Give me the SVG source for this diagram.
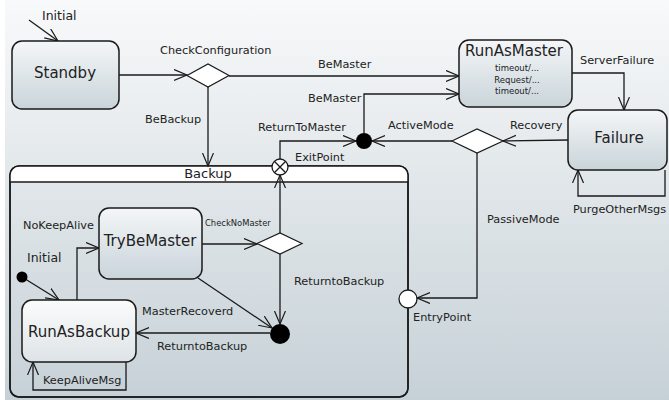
<svg xmlns="http://www.w3.org/2000/svg" width="669" height="400" viewBox="0 0 669 400">
<defs>
<linearGradient id="bg" x1="0" y1="0" x2="0" y2="1">
<stop offset="0" stop-color="#f8f9fa"/>
<stop offset="1" stop-color="#c6d1d7"/>
</linearGradient>
<linearGradient id="nodeFill" x1="0" y1="0" x2="0" y2="1">
<stop offset="0" stop-color="#f4f6f8"/>
<stop offset="1" stop-color="#c9d4da"/>
</linearGradient>
<linearGradient id="innerFill" x1="0" y1="0" x2="0" y2="1">
<stop offset="0" stop-color="#fbfcfc"/>
<stop offset="1" stop-color="#dde3e7"/>
</linearGradient>
<marker id="arr" markerUnits="userSpaceOnUse" markerWidth="16" markerHeight="14" refX="13" refY="6" orient="auto">
<path d="M0,0.5 L13,6 L0,11.5" fill="none" stroke="#1a1a1a" stroke-width="1.2"/>
</marker>
</defs>
<style>
.node{stroke:#1a1a1a;stroke-width:1.5;fill:url(#nodeFill)}
.inode{stroke:#1a1a1a;stroke-width:1.5;fill:url(#innerFill)}
.t{font-family:"DejaVu Sans",Verdana,sans-serif;fill:#222}
.title{font-size:15px;text-anchor:middle}
.lbl{font-size:11.3px}
.small{font-size:8.5px;text-anchor:middle}
.edge{fill:none;stroke:#1a1a1a;stroke-width:1.3;marker-end:url(#arr)}
.diamond{fill:#fff;stroke:#1a1a1a;stroke-width:1.2}
</style>
<rect x="0" y="0" width="669" height="400" fill="#fff"/>
<rect x="5" y="0" width="664" height="400" fill="url(#bg)"/>

<g id="Backup">
<rect x="10" y="166" width="398" height="231" rx="9" fill="none" stroke="#1a1a1a" stroke-width="1.5"/>
<path d="M10,182 V175 A9,9 0 0 1 19,166 H399 A9,9 0 0 1 408,175 V182 Z" fill="#fff" stroke="none"/>
<rect x="10" y="166" width="398" height="231" rx="9" fill="none" stroke="#1a1a1a" stroke-width="1.5"/>
<line x1="10" y1="182" x2="408" y2="182" stroke="#1a1a1a" stroke-width="1.3"/>
<text class="t" x="208" y="178" font-size="13" text-anchor="middle">Backup</text>
</g>

<g id="connectors">
<path class="edge" d="M29,20 L58,41"/>
<path class="edge" d="M119,75 H187"/>
<path class="edge" d="M229,76 H459"/>
<path class="edge" d="M208,86 V166"/>
<path class="edge" d="M280,159 V141 H356"/>
<path class="edge" d="M280,233 V175"/>
<path class="edge" d="M364,133 V94 H459"/>
<path class="edge" d="M452,141 H372"/>
<path class="edge" d="M568,140 L503,141"/>
<path class="edge" d="M572,73 H624 V110"/>
<path class="edge" d="M665,170 V196 H578 V170"/>
<path class="edge" d="M477,153 V298 H417"/>
<path class="edge" d="M22,277 L59,300"/>
<path class="edge" d="M77,300 V248 H99"/>
<path class="edge" d="M202,244 H257"/>
<path class="edge" d="M280,253 V324"/>
<path class="edge" d="M198,278 L272,328"/>
<path class="edge" d="M270,333 H136"/>
<path class="edge" d="M126,362 V390 H33 V362"/>
<text class="t" x="42" y="19.5" font-size="12.5">Initial</text>
<text class="t lbl" x="160" y="54">CheckConfiguration</text>
<text class="t lbl" x="318" y="68">BeMaster</text>
<text class="t lbl" x="145" y="123">BeBackup</text>
<text class="t lbl" x="308" y="102">BeMaster</text>
<text class="t lbl" x="258" y="131">ReturnToMaster</text>
<text class="t lbl" x="295" y="161">ExitPoint</text>
<text class="t lbl" x="388" y="129">ActiveMode</text>
<text class="t lbl" x="510" y="129">Recovery</text>
<text class="t lbl" x="580" y="64">ServerFailure</text>
<text class="t lbl" x="573" y="213">PurgeOtherMsgs</text>
<text class="t lbl" x="487" y="223">PassiveMode</text>
<text class="t lbl" x="413" y="321">EntryPoint</text>
<text class="t lbl" x="294" y="285">ReturntoBackup</text>
<text class="t" x="205" y="226" font-size="8.4">CheckNoMaster</text>
<text class="t lbl" x="23" y="229">NoKeepAlive</text>
<text class="t" x="27" y="262" font-size="12.5">Initial</text>
<text class="t lbl" x="142" y="315">MasterRecoverd</text>
<text class="t lbl" x="157" y="350">ReturntoBackup</text>
<text class="t lbl" x="43" y="384">KeepAliveMsg</text>
</g>

<g id="Standby">
<rect class="node" x="12" y="41" width="107" height="68" rx="10"/>
<text class="t title" x="65" y="78">Standby</text>
</g>
<g id="CheckConfigurationChoice">
<polygon class="diamond" points="187,75.5 208,64 229,75.5 208,87"/>
</g>
<g id="RunAsMaster">
<rect class="node" x="459" y="40" width="113" height="67" rx="10"/>
<text class="t title" x="514" y="56">RunAsMaster</text>
<text class="t small" x="517" y="71">timeout/...</text>
<text class="t small" x="517" y="83">Request/...</text>
<text class="t small" x="517" y="94">timeout/...</text>
</g>
<g id="Failure">
<rect class="node" x="568" y="110" width="99" height="60" rx="10"/>
<text class="t title" x="619" y="143">Failure</text>
</g>
<g id="ModeChoice">
<polygon class="diamond" points="452,141 477,129 503,141 477,153"/>
</g>
<g id="Junction">
<circle cx="364" cy="141" r="8" fill="#000"/>
</g>
<g id="ExitPoint">
<circle cx="280" cy="167" r="8" fill="#fff" stroke="#1a1a1a" stroke-width="1.3"/>
<path d="M274.3,161.3 L285.7,172.7 M285.7,161.3 L274.3,172.7" stroke="#1a1a1a" stroke-width="1.3"/>
</g>
<g id="EntryPoint">
<circle cx="408" cy="299" r="9" fill="#fff" stroke="#1a1a1a" stroke-width="1.3"/>
</g>
<g id="TryBeMaster">
<rect class="node" x="99" y="208" width="103" height="71" rx="10"/>
<text class="t title" x="150" y="246">TryBeMaster</text>
</g>
<g id="RunAsBackup">
<rect class="inode" x="22" y="300" width="114" height="62" rx="10"/>
<text class="t title" x="79" y="337">RunAsBackup</text>
</g>
<g id="InitialBackup">
<circle cx="22" cy="277" r="5.5" fill="#000"/>
</g>
<g id="CheckNoMasterChoice">
<polygon class="diamond" points="257,243.5 280,233 302,243.5 280,254"/>
</g>
<g id="Junction2">
<circle cx="280" cy="334" r="10" fill="#000"/>
</g>
</svg>
